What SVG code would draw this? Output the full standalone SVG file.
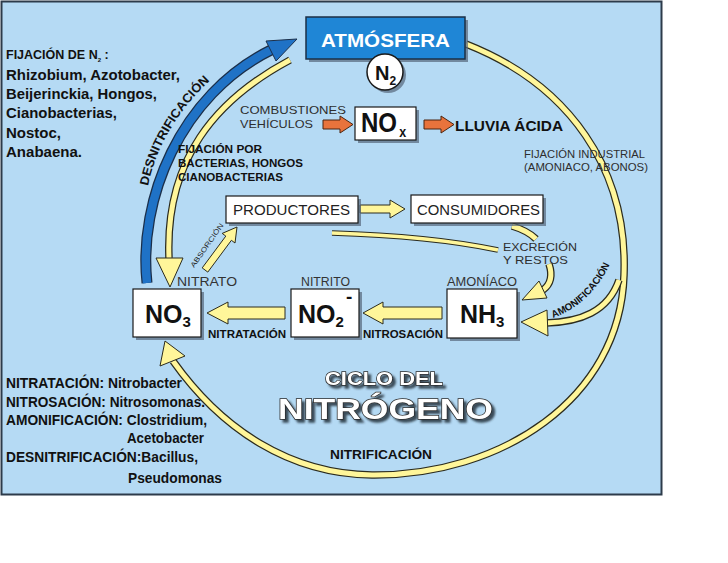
<svg xmlns="http://www.w3.org/2000/svg" width="728" height="563" viewBox="0 0 728 563">
<defs>
<style>
text{font-family:"Liberation Sans",Arial,Helvetica,sans-serif}
.sh{fill:#56677b;opacity:.7}
.box{fill:#fff;stroke:#1a1a1a;stroke-width:1.2}
.bo{fill:none;stroke:#2b2b1e;stroke-width:7.5}
.bi{fill:none;stroke:#fff69a;stroke-width:5}
.tbo{fill:none;stroke:#2b2b1e;stroke-width:5.5}
.tbi{fill:none;stroke:#fff69a;stroke-width:3.5}
.ya{fill:#fff69a;stroke:#2b2b1e;stroke-width:1}
.oa{fill:#e8733c;stroke:#4a2510;stroke-width:1}
.lt{font-size:10.5px;fill:#2e2e2e}
.hv{font-weight:bold;fill:#111}
.big{font-weight:bold;fill:#111;font-size:25px}
.ttl{font-weight:bold;fill:#fff;stroke:#2a2a2a;stroke-width:1.3;paint-order:stroke}
.lab{font-size:13px;fill:#333}
</style>
<filter id="ds" x="-10%" y="-30%" width="130%" height="170%">
<feDropShadow dx="3" dy="3" stdDeviation="1.2" flood-color="#27313d" flood-opacity="0.85"/>
</filter>
<path id="pBig" d="M466,44 C570,85 628,170 624,275 C620,400 500,476 372,475 C290,474 222,430 173,361"/>
<path id="pFix" d="M290,60 C215,100 165,160 169,258"/>
<path id="pDes" d="M147,283 C138,200 180,95 271,50"/>
<path id="pAmo" d="M619,280 C608,312 580,322 546,323"/>
<path id="pExA" d="M512,226 C522,229 530,233 536,239"/>
<path id="pExB" d="M549,264 C553,276 551,284 543,290"/>
<path id="pProd" d="M332,233 C400,235 450,240 498,250"/>
<path id="tDes" d="M148,186 C155,149 179,108 212,79"/>
<path id="tAmo" d="M553,318 Q596,302 614,254"/>
</defs>
<rect x="1.5" y="1.5" width="660" height="493" fill="#b5daf4" stroke="#2d3b4a" stroke-width="2"/>

<g id="connectors">
<use href="#pBig" class="bo"/><use href="#pBig" class="bi"/>
<polygon class="ya" points="165,341 185,356 160,366"/>
<use href="#pFix" class="bo"/><use href="#pFix" class="bi"/>
<polygon class="ya" points="156,258 183,258 170,287"/>
<use href="#pDes" fill="none" stroke="#1b2f4a" stroke-width="11"/>
<use href="#pDes" fill="none" stroke="#1f72c6" stroke-width="8.5"/>
<polygon fill="#1f72c6" stroke="#1b2f4a" stroke-width="1" points="266,41 297,39 276,61"/>
<use href="#pAmo" class="bo"/><use href="#pAmo" class="bi"/>
<polygon class="ya" points="547,310 521,322 548,336"/>
<use href="#pExA" class="bo"/><use href="#pExA" class="bi"/>
<use href="#pExB" class="bo"/><use href="#pExB" class="bi"/>
<polygon class="ya" points="539,281 522,300 547,298"/>
<use href="#pProd" class="tbo"/><use href="#pProd" class="tbi"/>
<polygon class="ya" points="360,205 390,205 390,200 405,209 390,218 390,213 360,213"/>
<polygon class="ya" points="285,307 228,307 228,302 207,313 228,324 228,319 285,319"/>
<polygon class="ya" points="442,307 383,307 383,302 363,313 383,324 383,319 442,319"/>
<polygon class="ya" points="202.2,267.9 225.8,236.1 222.2,233.4 237,227 235,243 231.4,240.3 207.8,272.1"/>
<polygon class="oa" points="323,120 340,120 340,116 353,124.5 340,133 340,129 323,129"/>
<polygon class="oa" points="424,120 441,120 441,116 454,124.5 441,133 441,129 424,129"/>
</g>

<g id="atmosfera">
<rect class="sh" x="309" y="20" width="159" height="42"/>
<rect x="306" y="17" width="159" height="42" fill="#1f86d6" stroke="#1b2f45" stroke-width="1.5"/>
<text x="321" y="47" font-size="18" font-weight="bold" fill="#fff" textLength="129" lengthAdjust="spacingAndGlyphs">ATMÓSFERA</text>
</g>
<g id="n2">
<circle class="sh" cx="388" cy="75" r="18"/>
<circle cx="385" cy="72" r="18" fill="#fff" stroke="#1a1a1a" stroke-width="1.5"/>
<text x="375" y="80" font-size="20" class="hv">N<tspan font-size="12" dy="5">2</tspan></text>
</g>
<g id="nox">
<rect class="sh" x="358" y="110" width="61" height="33"/>
<rect class="box" x="355" y="107" width="61" height="33"/>
<text transform="translate(361,132) scale(0.89,1)" font-size="27" class="hv">NO<tspan x="43" dy="5" font-size="14">x</tspan></text>
</g>
<g id="productores">
<rect class="sh" x="229" y="199" width="132" height="27"/>
<rect class="box" x="226" y="196" width="132" height="27"/>
<text x="233" y="215" font-size="15" fill="#222" textLength="117" lengthAdjust="spacingAndGlyphs">PRODUCTORES</text>
</g>
<g id="consumidores">
<rect class="sh" x="414" y="198" width="132" height="28"/>
<rect class="box" x="411" y="195" width="132" height="28"/>
<text x="417" y="215" font-size="15" fill="#222" textLength="123" lengthAdjust="spacingAndGlyphs">CONSUMIDORES</text>
</g>
<g id="no3">
<rect class="sh" x="136" y="292" width="68" height="48"/>
<rect class="box" x="133" y="289" width="68" height="48"/>
<text x="145" y="323" class="big">NO<tspan font-size="15" dy="4">3</tspan></text>
</g>
<g id="no2">
<rect class="sh" x="294" y="292" width="68" height="48"/>
<rect class="box" x="291" y="289" width="68" height="48"/>
<text x="298" y="323" class="big">NO<tspan font-size="15" dy="4">2</tspan></text>
<text x="346" y="303" font-size="19" class="hv">-</text>
</g>
<g id="nh3">
<rect class="sh" x="450" y="292" width="70" height="49"/>
<rect class="box" x="447" y="289" width="70" height="49"/>
<text x="460" y="323" class="big">NH<tspan font-size="15" dy="4">3</tspan></text>
</g>

<g id="labels">
<text x="177" y="286" class="lab" textLength="60" lengthAdjust="spacingAndGlyphs">NITRATO</text>
<text x="301" y="286" class="lab" textLength="49" lengthAdjust="spacingAndGlyphs">NITRITO</text>
<text x="447" y="286" class="lab" textLength="70" lengthAdjust="spacingAndGlyphs">AMONÍACO</text>
<text x="208" y="338" font-size="11" class="hv" textLength="78" lengthAdjust="spacingAndGlyphs">NITRATACIÓN</text>
<text x="363" y="338" font-size="11" class="hv" textLength="80" lengthAdjust="spacingAndGlyphs">NITROSACIÓN</text>
<text x="240" y="114" class="lt" textLength="106" lengthAdjust="spacingAndGlyphs">COMBUSTIONES</text>
<text x="240" y="128" class="lt" textLength="73" lengthAdjust="spacingAndGlyphs">VEHÍCULOS</text>
<text x="455" y="131" font-size="14.5" class="hv" textLength="108" lengthAdjust="spacingAndGlyphs">LLUVIA ÁCIDA</text>
<text x="524" y="158" class="lt" textLength="121" lengthAdjust="spacingAndGlyphs">FIJACIÓN INDUSTRIAL</text>
<text x="524" y="171" class="lt" textLength="124" lengthAdjust="spacingAndGlyphs">(AMONIACO, ABONOS)</text>
<text x="503" y="251" class="lt" font-size="10" textLength="74" lengthAdjust="spacingAndGlyphs">EXCRECIÓN</text>
<text x="503" y="264" class="lt" font-size="10" textLength="65" lengthAdjust="spacingAndGlyphs">Y RESTOS</text>
<text x="178" y="153" font-size="10.5" class="hv" textLength="84" lengthAdjust="spacingAndGlyphs">FIJACIÓN POR</text>
<text x="178" y="167" font-size="10.5" class="hv" textLength="125" lengthAdjust="spacingAndGlyphs">BACTERIAS, HONGOS</text>
<text x="178" y="181" font-size="10.5" class="hv" textLength="105" lengthAdjust="spacingAndGlyphs">CIANOBACTERIAS</text>
<text font-size="12.5" class="hv"><textPath href="#tDes" textLength="124" lengthAdjust="spacingAndGlyphs">DESNITRIFICACIÓN</textPath></text>
<text font-size="10" class="hv"><textPath href="#tAmo" textLength="80" lengthAdjust="spacingAndGlyphs">AMONIFICACIÓN</textPath></text>
<text x="0" y="0" font-size="7" fill="#222" transform="translate(194,268) rotate(-55)" textLength="52" lengthAdjust="spacingAndGlyphs">ABSORCIÓN</text>
<text x="330" y="459" font-size="12.5" class="hv" textLength="102" lengthAdjust="spacingAndGlyphs">NITRIFICACIÓN</text>

<text x="6" y="59" font-size="12.5" class="hv">FIJACIÓN DE N<tspan font-size="6" dy="3">2</tspan><tspan dy="-3"> :</tspan></text>
<text x="6" y="80" font-size="15" class="hv" textLength="174" lengthAdjust="spacingAndGlyphs">Rhizobium, Azotobacter,</text>
<text x="6" y="99" font-size="15" class="hv" textLength="151" lengthAdjust="spacingAndGlyphs">Beijerinckia, Hongos,</text>
<text x="6" y="118" font-size="15" class="hv" textLength="111" lengthAdjust="spacingAndGlyphs">Cianobacterias,</text>
<text x="6" y="138" font-size="15" class="hv" textLength="55" lengthAdjust="spacingAndGlyphs">Nostoc,</text>
<text x="6" y="157" font-size="15" class="hv" textLength="76" lengthAdjust="spacingAndGlyphs">Anabaena.</text>

<text x="6" y="388" font-size="14.5" class="hv" textLength="176" lengthAdjust="spacingAndGlyphs">NITRATACIÓN: Nitrobacter</text>
<text x="6" y="407" font-size="14.5" class="hv" textLength="199" lengthAdjust="spacingAndGlyphs">NITROSACIÓN: Nitrosomonas.</text>
<text x="6" y="425" font-size="14.5" class="hv" textLength="201" lengthAdjust="spacingAndGlyphs">AMONIFICACIÓN: Clostridium,</text>
<text x="127" y="443" font-size="14.5" class="hv" textLength="77" lengthAdjust="spacingAndGlyphs">Acetobacter</text>
<text x="6" y="462" font-size="14.5" class="hv" textLength="192" lengthAdjust="spacingAndGlyphs">DESNITRIFICACIÓN:Bacillus,</text>
<text x="128" y="483" font-size="14.5" class="hv" textLength="94" lengthAdjust="spacingAndGlyphs">Pseudomonas</text>
</g>

<g id="title" filter="url(#ds)">
<text x="325" y="385" font-size="18" class="ttl" textLength="118" lengthAdjust="spacingAndGlyphs">CICLO DEL</text>
<text x="278" y="419" font-size="29" class="ttl" textLength="215" lengthAdjust="spacingAndGlyphs">NITRÓGENO</text>
</g>
</svg>
